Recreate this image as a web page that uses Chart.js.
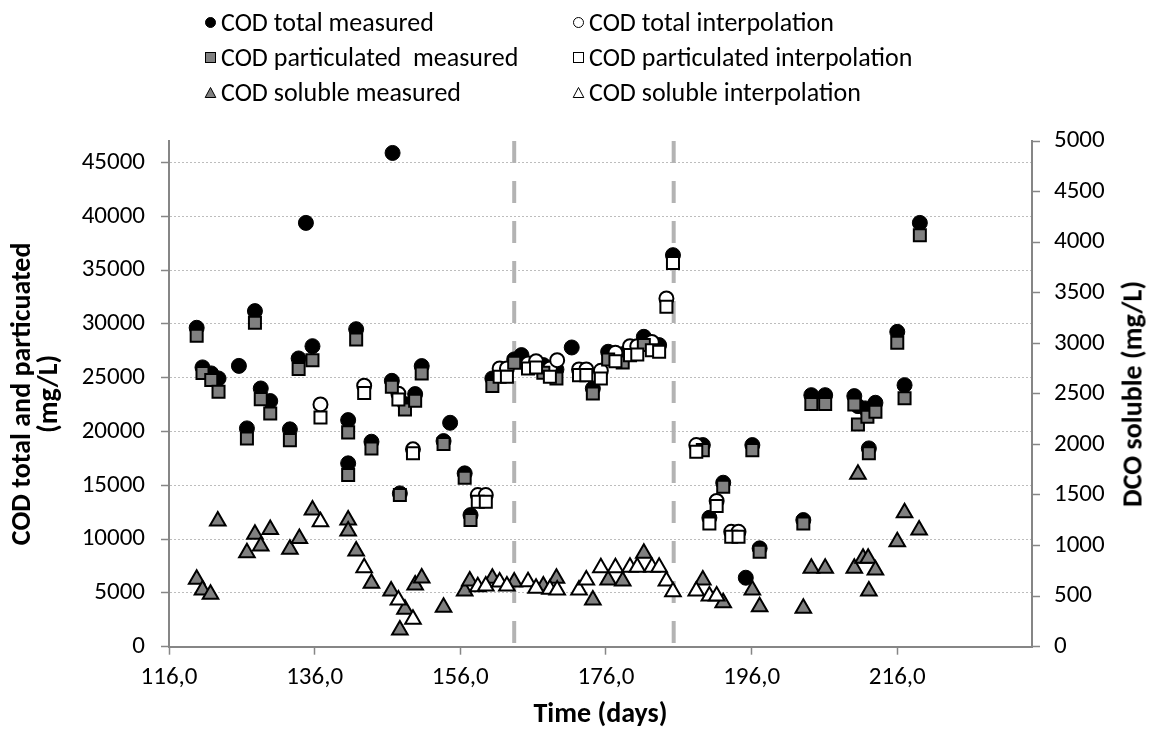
<!DOCTYPE html>
<html>
<head>
<meta charset="utf-8">
<script src="https://cdn.jsdelivr.net/npm/chart.js@4.4.1/dist/chart.umd.min.js"></script>
<style>
  html, body { margin: 0; padding: 0; background: #fff; }
  #wrap { position: relative; width: 1149px; height: 729px; font-family: Carlito, Calibri, Lato, sans-serif; }
  .leg { position: absolute; white-space: pre; font-size: 26px; color: #000; line-height: 30px; display: flex; align-items: center; }
  .leg svg { margin-right: 4px; }
  #rtitle { position: absolute; left: 1132px; top: 394px; transform: translate(-50%, -50%) rotate(-90deg); font-weight: bold; font-size: 28px; white-space: nowrap; }
</style>
</head>
<body>
<div id="wrap">
  <canvas id="codChart"></canvas>
  <div id="legend"></div>
  <div id="rtitle">DCO soluble (mg/L)</div>
</div>
<script>
// ---- data ----
const totalMeasDays = [119.8, 120.6, 121.8, 122.8, 125.6, 126.7, 127.8, 128.6, 129.9, 132.6, 133.8, 134.8, 135.7, 140.6, 140.6, 141.7, 143.8, 146.6, 146.7, 147.7, 148.4, 149.8, 150.7, 153.7, 154.6, 156.6, 157.4, 160.4, 163.4, 164.4, 167.4, 169.2, 171.3, 174.2, 176.3, 178.3, 181.2, 183.3, 185.2, 189.3, 190.2, 192.1, 195.2, 196.1, 197.1, 203.1, 204.2, 206.1, 210.1, 210.6, 211.6, 212.1, 213.0, 216.0, 217.0, 219.1];
const totalMeasVals = [29640, 25960, 25400, 24930, 26100, 20290, 31190, 24000, 22830, 20200, 26790, 39390, 27930, 21060, 17040, 29510, 19050, 24710, 45890, 14250, 22550, 23480, 26080, 19110, 20810, 16110, 12230, 24930, 26700, 27100, 26170, 25770, 27810, 24000, 27410, 27190, 28800, 28030, 36390, 18740, 11980, 15240, 6410, 18740, 9140, 11770, 23380, 23380, 23290, 22360, 22150, 18430, 22670, 29260, 24310, 39390];

const totalInterpDays = [136.8, 142.8, 147.5, 149.5, 158.4, 159.5, 161.4, 162.4, 165.3, 166.4, 168.3, 169.3, 172.3, 173.3, 175.3, 177.3, 179.3, 180.3, 182.3, 184.3, 188.4, 191.2, 193.2, 194.2];
const totalInterpVals = [22520, 24250, 23510, 18340, 14090, 14090, 25860, 25860, 26330, 26540, 25860, 26630, 25770, 25770, 25640, 27310, 27930, 27930, 28330, 32370, 18740, 13550, 10680, 10680];

const partMeasDays = [119.8, 120.6, 121.8, 122.8, 126.7, 127.8, 128.6, 129.9, 132.6, 133.8, 135.7, 140.6, 140.6, 141.7, 143.8, 146.6, 147.7, 148.4, 149.8, 150.7, 153.7, 156.6, 157.4, 160.4, 163.4, 167.4, 169.2, 174.2, 176.3, 178.3, 181.2, 189.3, 192.1, 196.1, 197.1, 203.1, 204.2, 206.1, 210.1, 210.6, 211.9, 212.1, 213.0, 216.0, 217.0, 219.1];
const partMeasVals = [28890, 25430, 24780, 23690, 19360, 30100, 23010, 21680, 19200, 25800, 26630, 19920, 15950, 28560, 18430, 24150, 14100, 22050, 22850, 25400, 18830, 15700, 11770, 24220, 26380, 25460, 24930, 23540, 26700, 26420, 28030, 18270, 14860, 18270, 8830, 11460, 22550, 22550, 22520, 20660, 21370, 17970, 21830, 28240, 23100, 38250];

const partInterpDays = [136.8, 142.8, 147.5, 149.5, 158.4, 159.5, 161.4, 162.4, 165.3, 166.4, 168.3, 172.3, 173.3, 175.3, 177.3, 179.3, 180.3, 182.3, 183.3, 184.3, 185.2, 188.4, 190.2, 191.2, 193.2, 194.2];
const partInterpVals = [21310, 23570, 22980, 17970, 13470, 13470, 25080, 25080, 25860, 25950, 25080, 25240, 25240, 24930, 26530, 27100, 27150, 27550, 27410, 31590, 35670, 18120, 11460, 13080, 10220, 10220];

const solMeasDays = [119.8, 120.6, 121.7, 122.7, 126.7, 127.8, 128.6, 129.9, 132.6, 133.9, 135.7, 140.6, 140.6, 141.7, 143.8, 146.5, 147.7, 148.4, 149.8, 150.7, 153.7, 156.6, 157.3, 160.4, 163.4, 167.4, 169.2, 174.2, 176.3, 178.3, 181.2, 189.3, 192.1, 196.1, 197.1, 203.1, 204.2, 206.1, 210.1, 210.6, 211.3, 212.0, 212.1, 213.0, 216.0, 217.0, 219.0];
const solMeasVals = [666, 560, 518, 1242, 929, 1111, 995, 1160, 963, 1071, 1351, 1252, 1144, 946, 627, 551, 165, 370, 610, 680, 389, 550, 649, 676, 640, 600, 676, 462, 659, 649, 923, 659, 435, 560, 395, 379, 775, 775, 775, 1704, 874, 874, 550, 758, 1038, 1324, 1153];

const solInterpDays = [136.8, 142.8, 147.5, 149.5, 158.4, 159.5, 161.4, 162.4, 165.3, 166.4, 168.3, 169.3, 172.3, 173.3, 175.3, 177.3, 179.3, 180.3, 182.3, 183.3, 184.3, 185.2, 188.4, 190.2, 191.2];
const solInterpVals = [1236, 781, 462, 271, 593, 600, 640, 600, 643, 577, 567, 560, 560, 659, 781, 781, 785, 785, 785, 785, 649, 544, 550, 501, 501];

// vertical markers (days) and axis ticks
const markerDays = [163.4, 185.3];
const xTicks = [116, 136, 156, 176, 196, 216];
const leftTicks = [0, 5000, 10000, 15000, 20000, 25000, 30000, 35000, 40000, 45000];
const rightTicks = [0, 500, 1000, 1500, 2000, 2500, 3000, 3500, 4000, 4500, 5000];

const legendItems = [
    { label: 'COD total measured', shape: 'circle', fill: '#000' },
    { label: 'COD total interpolation', shape: 'circle', fill: '#fff' },
    { label: 'COD particulated  measured', shape: 'square', fill: '#808080' },
    { label: 'COD particulated interpolation', shape: 'square', fill: '#fff' },
    { label: 'COD soluble measured', shape: 'triangle', fill: '#808080' },
    { label: 'COD soluble interpolation', shape: 'triangle', fill: '#fff' }
];

function pts(days, vals) {
    return days.map((d, i) => ({ x: d, y: vals[i] }));
}

const FONT = 'Carlito, Calibri, Lato, sans-serif';
const AXIS_GRAY = '#868686';

const datasets = [
    {
        label: 'COD total measured', data: pts(totalMeasDays, totalMeasVals), yAxisID: 'y',
        pointStyle: 'circle', pointRadius: 7.5, backgroundColor: '#000', borderColor: '#000', borderWidth: 1, order: 6
    },
    {
        label: 'COD total interpolation', data: pts(totalInterpDays, totalInterpVals), yAxisID: 'y',
        pointStyle: 'circle', pointRadius: 7, backgroundColor: '#fff', borderColor: '#000', borderWidth: 2, order: 5
    },
    {
        label: 'COD particulated measured', data: pts(partMeasDays, partMeasVals), yAxisID: 'y',
        pointStyle: 'rect', pointRadius: 8.5, backgroundColor: '#808080', borderColor: '#000', borderWidth: 2, order: 4
    },
    {
        label: 'COD particulated interpolation', data: pts(partInterpDays, partInterpVals), yAxisID: 'y',
        pointStyle: 'rect', pointRadius: 8.5, backgroundColor: '#fff', borderColor: '#000', borderWidth: 2, order: 3
    },
    {
        label: 'COD soluble measured', data: pts(solMeasDays, solMeasVals), yAxisID: 'y1',
        pointStyle: 'triangle', pointRadius: 9, backgroundColor: '#808080', borderColor: '#000', borderWidth: 2, order: 2
    },
    {
        label: 'COD soluble interpolation', data: pts(solInterpDays, solInterpVals), yAxisID: 'y1',
        pointStyle: 'triangle', pointRadius: 9, backgroundColor: '#fff', borderColor: '#000', borderWidth: 2, order: 1
    }
];

markerDays.forEach(d => {
    datasets.push({
        label: 'marker', data: [{ x: d, y: 47000 }, { x: d, y: 0 }], yAxisID: 'y',
        showLine: true, pointRadius: 0, borderColor: '#b3b3b3', borderWidth: 4,
        borderDash: [22, 18], order: 10
    });
});

const config = {
    type: 'scatter',
    data: { datasets: datasets },
    options: {
        responsive: true,
        maintainAspectRatio: false,
        animation: false,
        layout: { padding: { top: 141, left: 0, right: 0, bottom: 0 } },
        plugins: { legend: { display: false }, tooltip: { enabled: false } },
        scales: {
            x: {
                type: 'linear', position: 'bottom', min: 116, max: 234.5,
                afterBuildTicks: axis => { axis.ticks = xTicks.map(v => ({ value: v })); },
                afterFit: scale => { scale.height = 82.3; },
                ticks: {
                    color: '#000', font: { family: FONT, size: 25 }, padding: 8,
                    callback: v => v.toFixed(1).replace('.', ',')
                },
                grid: { drawOnChartArea: false, drawTicks: true, tickLength: 8, tickColor: AXIS_GRAY, tickWidth: 1.5 },
                border: { color: AXIS_GRAY, width: 2 },
                title: {
                    display: true, text: 'Time (days)', color: '#000',
                    font: { family: FONT, size: 28, weight: 'bold', lineHeight: 1 }, padding: { top: 0, bottom: 0 }
                }
            },
            y: {
                type: 'linear', position: 'left', min: 0, max: 47000,
                afterBuildTicks: axis => { axis.ticks = leftTicks.map(v => ({ value: v })); },
                afterFit: scale => { scale.width = 169; },
                ticks: { color: '#000', font: { family: FONT, size: 25 }, padding: 16, callback: v => String(v) },
                grid: { color: '#bdbdbd', lineWidth: 1, tickLength: 8, tickColor: AXIS_GRAY, tickWidth: 1.5 },
                border: { color: AXIS_GRAY, width: 2, dash: [2, 2] },
                title: {
                    display: true, text: ['COD total and particuated', '(mg/L)'], color: '#000',
                    font: { family: FONT, size: 28, weight: 'bold', lineHeight: 0.98 }, padding: { top: 9, bottom: 0 }
                }
            },
            y1: {
                type: 'linear', position: 'right', min: 0, max: 5000,
                afterBuildTicks: axis => { axis.ticks = rightTicks.map(v => ({ value: v })); },
                afterFit: scale => { scale.width = 117; },
                ticks: { color: '#000', font: { family: FONT, size: 25 }, padding: 14, callback: v => String(v) },
                grid: { drawOnChartArea: false, tickLength: 8, tickColor: AXIS_GRAY, tickWidth: 1.5 },
                border: { color: AXIS_GRAY, width: 2 }
            }
        }
    }
};

document.getElementById('codChart').parentNode.style.height = '729px';
new Chart(document.getElementById('codChart').getContext('2d'), config);

// legend in two columns, three rows
function markerSvg(item) {
    let shape;
    if (item.shape === 'circle') {
        shape = '<circle cx="6.5" cy="6.5" r="5" fill="' + item.fill + '" stroke="#000" stroke-width="1"/>';
    } else if (item.shape === 'square') {
        shape = '<rect x="1.5" y="1.5" width="10" height="10" fill="' + item.fill + '" stroke="#000" stroke-width="1"/>';
    } else {
        shape = '<polygon points="6.5,1.5 11.8,11.5 1.2,11.5" fill="' + item.fill + '" stroke="#000" stroke-width="1"/>';
    }
    return '<svg width="13" height="13" viewBox="0 0 13 13">' + shape + '</svg>';
}

const colX = [204, 572];
const rowY = [22, 57, 92];
const legendEl = document.getElementById('legend');
legendItems.forEach((item, i) => {
    const div = document.createElement('div');
    div.className = 'leg';
    div.style.left = colX[i % 2] + 'px';
    div.style.top = (rowY[Math.floor(i / 2)] - 15) + 'px';
    div.innerHTML = markerSvg(item) + '<span>' + item.label + '</span>';
    legendEl.appendChild(div);
});
</script>
</body>
</html>
